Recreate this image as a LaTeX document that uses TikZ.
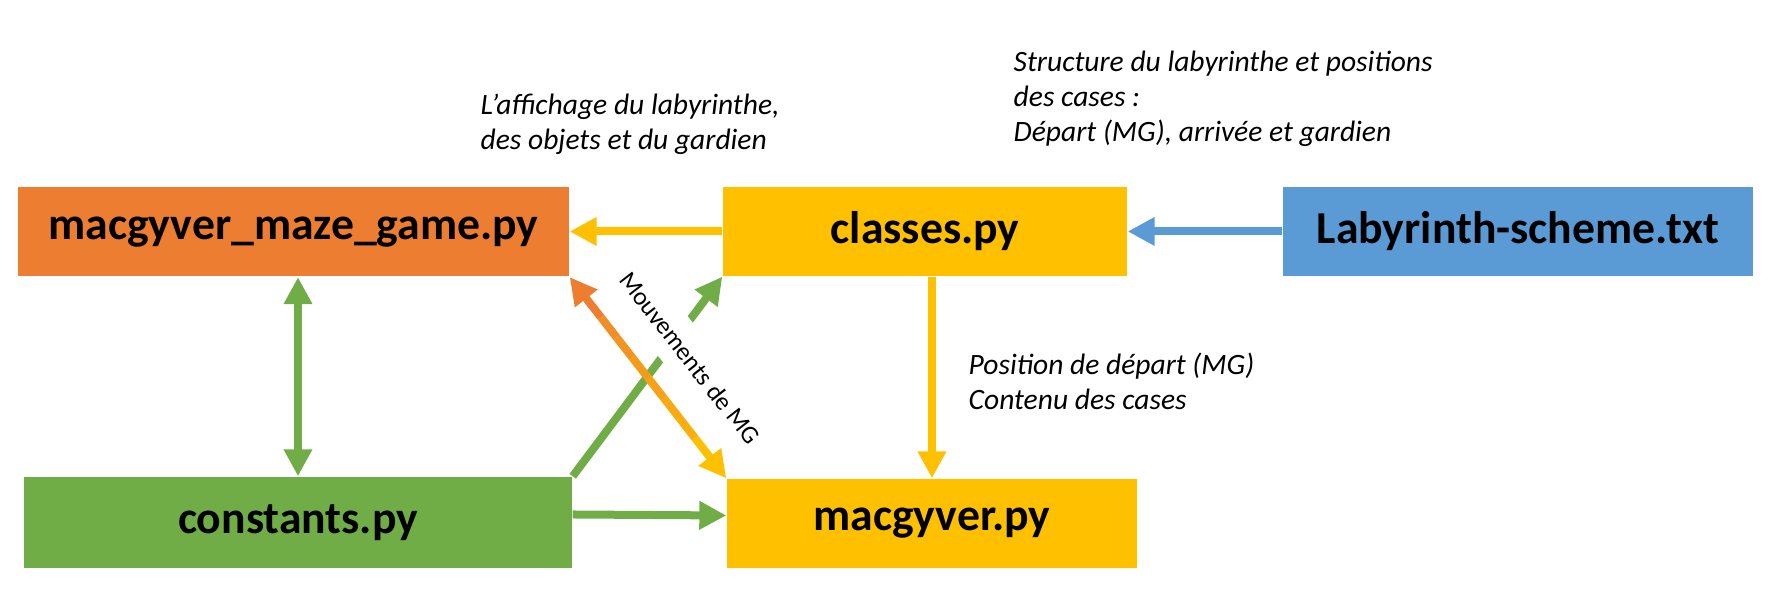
\documentclass[tikz,border=0pt]{standalone}
\usepackage{fontspec}
\setmainfont{Carlito}
\usetikzlibrary{arrows.meta,calc}
\definecolor{fileorange}{HTML}{ED7D31}
\definecolor{fileyellow}{HTML}{FFC000}
\definecolor{fileblue}{HTML}{5B9BD5}
\definecolor{filegreen}{HTML}{70AD47}
\tikzset{
  file/.style={minimum height=0.89cm, inner sep=0pt, font=\fontsize{13}{16}\selectfont\bfseries},
  note/.style={anchor=base west, align=left, inner sep=0pt, font=\fontsize{8.4}{10}\selectfont\itshape},
  link/.style={line width=0.08cm, -{Triangle[length=0.27cm,width=0.27cm]}},
  links/.style={line width=0.08cm, {Triangle[length=0.27cm,width=0.27cm]}-{Triangle[length=0.27cm,width=0.27cm]}}
}
\begin{document}
\begin{tikzpicture}
\useasboundingbox (0,0) rectangle (17.69,5.93);
\node[file, fill=fileorange, minimum width=5.51cm] (maze) at (2.935,3.61) {macgyver\_maze\_game.py};
\node[file, fill=fileyellow, minimum width=4.04cm] (cls) at (9.25,3.615) {classes.py};
\node[file, fill=fileblue, minimum width=4.70cm] (lab) at (15.18,3.615) {Labyrinth-scheme.txt};
\node[file, fill=filegreen, minimum width=5.48cm, minimum height=0.91cm] (cst) at (2.98,0.705) {constants.py};
\node[file, fill=fileyellow, minimum width=4.10cm] (mac) at (9.32,0.695) {macgyver.py};

\node[note] (aff) at (4.80,4.43) {L’affichage du labyrinthe,\\des objets et du gardien};
\node[note] (struct) at (10.13,4.51) {Structure du labyrinthe et positions\\des cases :\\Départ (MG), arrivée et gardien};
\node[note] (pos) at (9.68,1.83) {Position de départ (MG)\\Contenu des cases};

\draw[link, fileyellow] (cls.west) -- (cls.west -| maze.east);
\draw[link, fileblue] (lab.west) -- (cls.east);
\draw[links, filegreen] (cst.north) -- (cst.north |- maze.south);
\draw[link, fileyellow] (mac.north |- cls.south) -- (mac.north);
\draw[link, filegreen] ([yshift=0.08cm]cst.east) -- ([yshift=0.08cm]mac.west);
\draw[link, filegreen] (cst.north east) -- (cls.south west);

\node[rotate=-52, fill=white, inner xsep=0.05cm, inner ysep=0.15cm, font=\fontsize{7.2}{9}\selectfont] (mvt) at (6.90,2.35) {Mouvements de MG};

\draw[link, fileorange] ($(maze.south east)!0.2!(mac.north west)$) -- (maze.south east);
\foreach \i [evaluate=\i as \j using int(\i+1), evaluate=\i as \k using int(95-10*\i)] in {2,...,7}
    \draw[line width=0.08cm, fileorange!\k!fileyellow] ($(maze.south east)!\i/10!(mac.north west)$) -- ($(maze.south east)!\j/10!(mac.north west)$);
\draw[link, fileyellow] ($(maze.south east)!0.8!(mac.north west)$) -- (mac.north west);
\end{tikzpicture}
\end{document}
